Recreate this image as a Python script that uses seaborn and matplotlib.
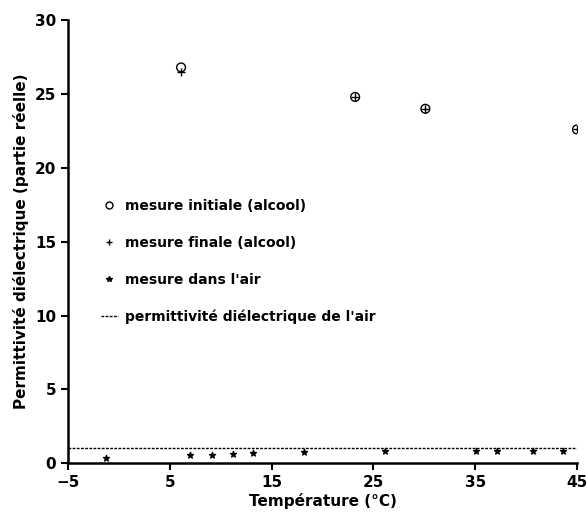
import numpy as np
import pandas as pd
import matplotlib.pyplot as plt
from matplotlib.lines import Line2D
import seaborn as sns

# alcohol measurements (initial / final)
temp_alcool = [6.1, 23.2, 30.1, 45.0]
eps_initiale = [26.8, 24.8, 24.0, 22.6]
eps_finale = [26.5, 24.8, 24.0, 22.6]

# measurements in air
temp_air = [-1.3, 7.0, 9.1, 11.2, 13.2, 18.2, 26.1, 35.1, 37.1, 40.7, 43.6]
eps_air = [0.35, 0.55, 0.55, 0.6, 0.7, 0.75, 0.8, 0.8, 0.8, 0.8, 0.8]

eps_air_ref = 1.0

labels = [
    "mesure initiale (alcool)",
    "mesure finale (alcool)",
    "mesure dans l'air",
    "permittivité diélectrique de l'air",
]

df = pd.concat([
    pd.DataFrame({"T": temp_alcool, "eps": eps_initiale, "serie": labels[0]}),
    pd.DataFrame({"T": temp_alcool, "eps": eps_finale, "serie": labels[1]}),
    pd.DataFrame({"T": temp_air, "eps": eps_air, "serie": labels[2]}),
])

sns.set_style("ticks")
plt.rcParams["font.family"] = ["DejaVu Sans"]
plt.rcParams["font.weight"] = "bold"
for key in ["text.color", "axes.labelcolor", "xtick.color", "ytick.color",
            "axes.edgecolor"]:
    plt.rcParams[key] = "black"

fig = plt.figure(figsize=(5.87, 5.17), dpi=100)
ax = fig.add_axes([0.116, 0.104, 0.867, 0.857])

markers = {labels[0]: "o", labels[1]: "+", labels[2]: "*"}
sizes = {labels[0]: 40, labels[1]: 40, labels[2]: 20}
for name, sub in df.groupby("serie", sort=False):
    sns.scatterplot(
        data=sub, x="T", y="eps", ax=ax, marker=markers[name], s=sizes[name],
        color="black", facecolor="none" if name == labels[0] else "black",
        edgecolor="black", linewidth=1.0, legend=False, zorder=3,
    )

ax.axhline(eps_air_ref, color="black", linestyle=(0, (2, 1)), linewidth=1.0)

ax.set_xlim(-5, 45)
ax.set_ylim(0, 30)
ax.set_xticks(np.arange(-5, 46, 10))
ax.set_yticks(np.arange(0, 31, 5))
ax.set_xticklabels(["\u22125", "5", "15", "25", "35", "45"])
sns.despine(ax=ax)
for side in ["left", "bottom"]:
    ax.spines[side].set_linewidth(1.8)
ax.tick_params(width=1.5, length=5, labelsize=11, direction="out")
for lab in ax.get_xticklabels() + ax.get_yticklabels():
    lab.set_fontweight("bold")

ax.set_xlabel("Température (°C)", fontsize=11, fontweight="bold", labelpad=2)
ax.set_ylabel("Permittivité diélectrique (partie réelle)", fontsize=11,
              fontweight="bold", labelpad=4)

handles = [
    Line2D([], [], marker="o", linestyle="none", markerfacecolor="none",
           markeredgecolor="black", markersize=5),
    Line2D([], [], marker="+", linestyle="none", color="black", markersize=5),
    Line2D([], [], marker="*", linestyle="none", color="black", markersize=4),
    Line2D([], [], linestyle=(0, (2, 1)), color="black", linewidth=1.0),
]
leg = ax.legend(handles, labels, loc="upper left", bbox_to_anchor=(0.04, 0.625),
                frameon=False, handlelength=1.2, handletextpad=0.5,
                labelspacing=1.65, prop={"size": 10, "weight": "bold"})

fig.savefig("out.png", dpi=100)
